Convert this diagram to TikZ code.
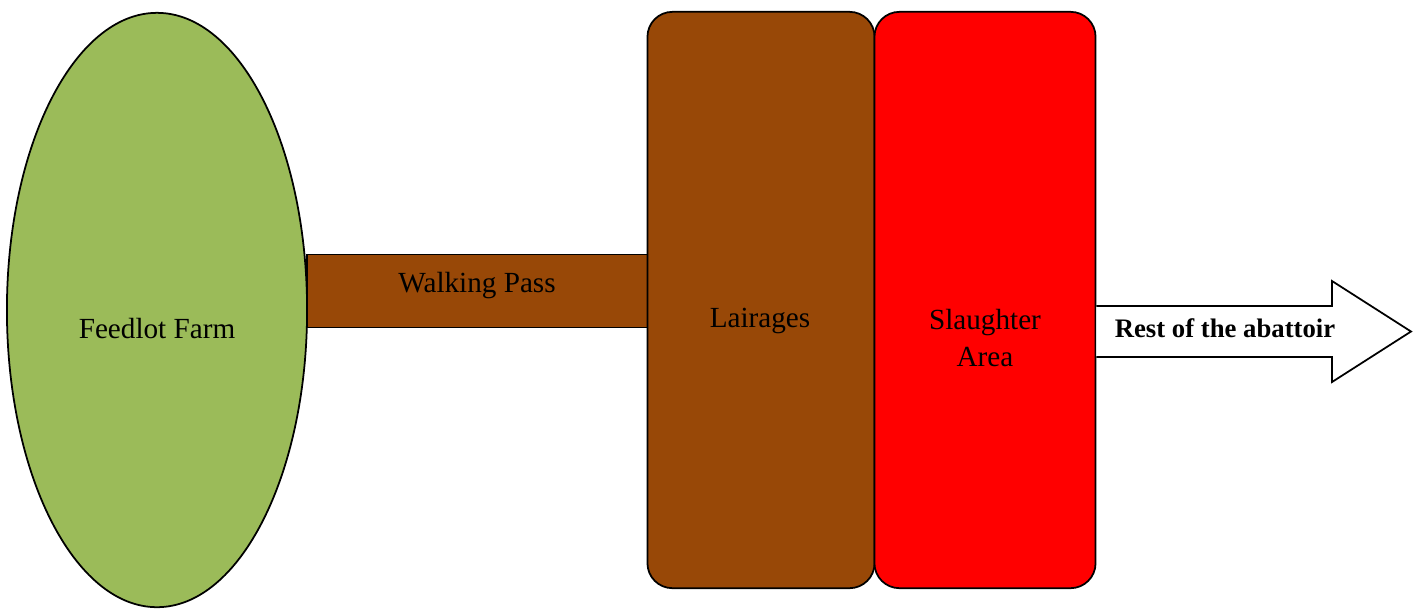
\documentclass[tikz,border=0pt]{standalone}
\usepackage{fontspec}
\setmainfont{Liberation Serif}
\usetikzlibrary{shapes.geometric}
\definecolor{farmgreen}{HTML}{9BBB59}
\definecolor{pathbrown}{HTML}{984807}
\definecolor{areared}{HTML}{FF0000}
\tikzset{
  outline/.style={draw=black, line width=0.5pt},
  zone/.style={outline, rounded corners=0.25cm, inner sep=0pt, minimum width=#1, minimum height=5.76cm},
  lbl/.style={font=\fontsize{8.3}{10.8}\selectfont, align=center, inner sep=0pt},
}
\begin{document}
\begin{tikzpicture}[x=0.01cm, y=-0.01cm]
  \useasboundingbox (0,0) rectangle (1413,608);
  % walking pass between farm and lairages
  \node[outline, fill=pathbrown, rectangle, inner sep=0pt, minimum width=3.41cm, minimum height=0.73cm] (pass) at (477.5,291) {};
  \node[lbl] (passtext) at (477,286) {Walking Pass};
  % feedlot farm
  \node[outline, fill=farmgreen, ellipse, inner sep=0pt, minimum width=3.0cm, minimum height=5.94cm] (farm) at (157,310) {};
  \node[lbl] (farmtext) at (157,329) {Feedlot Farm};
  % lairages and slaughter area
  \node[zone=2.27cm, fill=pathbrown] (lair) at (761,300) {};
  \node[lbl] (lairtext) at (760,321) {Lairages};
  \node[zone=2.21cm, fill=areared] (slaughter) at (985,300) {};
  \node[lbl] (slaughtertext) at (985,338) {Slaughter\\Area};
  % exit arrow
  \coordinate (a0) at (slaughter.east |- 0,306);
  \draw[outline, fill=white] (a0) -- (1332,306) -- (1332,281) -- (1411,331.5) -- (1332,382) -- (1332,357) -- (a0 |- 0,357);
  \node[lbl, font=\fontsize{7.6}{9}\selectfont\bfseries] (resttext) at (1225,328) {Rest of the abattoir};
\end{tikzpicture}
\end{document}
